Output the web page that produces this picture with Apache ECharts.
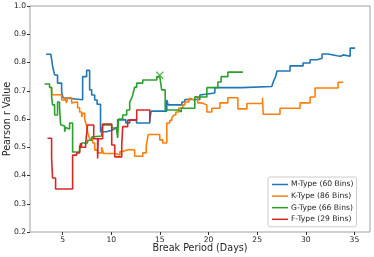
<!DOCTYPE html>
<html><head><meta charset="utf-8">
<script src="https://cdn.jsdelivr.net/npm/echarts@6/dist/echarts.min.js"></script>
<style>html,body{margin:0;padding:0;background:#fff}#c{width:374px;height:257px}</style>
</head><body><div id="c"></div>
<script>
const seriesNames = ['M-Type (60 Bins)', 'K-Type (86 Bins)', 'G-Type (66 Bins)', 'F-Type (29 Bins)'];
const xTicks = [5, 10, 15, 20, 25, 30, 35];
// step data: [break period, pearson r] (value holds until next point)
const mType = [[3.30,0.829],[3.80,0.836],[3.98,0.785],[4.18,0.756],[4.48,0.727],[4.90,0.695],[5.05,0.675],[5.21,0.668],[7.06,0.750],[7.47,0.772],[7.78,0.703],[7.99,0.685],[8.30,0.667],[8.55,0.652],[8.90,0.555],[9.50,0.560],[10.05,0.565],[10.36,0.572],[10.66,0.597],[11.50,0.586],[11.90,0.597],[12.60,0.586],[13.96,0.600],[14.10,0.628],[15.71,0.667],[15.85,0.650],[17.26,0.660],[17.57,0.669],[19.11,0.685],[19.31,0.692],[20.65,0.711],[23.44,0.715],[26.50,0.720],[26.70,0.735],[26.90,0.750],[27.04,0.770],[28.38,0.788],[29.72,0.798],[30.44,0.810],[31.16,0.815],[31.67,0.830],[32.29,0.824],[33.22,0.828],[33.40,0.822],[33.60,0.827],[33.84,0.822],[34.56,0.851],[35.07,0.851]];
const kType = [[3.85,0.713],[3.90,0.686],[4.90,0.667],[5.21,0.675],[5.41,0.657],[5.51,0.675],[5.93,0.657],[6.03,0.660],[6.54,0.640],[6.75,0.625],[6.96,0.607],[7.06,0.620],[7.27,0.600],[7.47,0.575],[7.60,0.550],[7.78,0.530],[8.09,0.515],[8.30,0.490],[8.60,0.480],[9.02,0.500],[9.20,0.478],[10.36,0.473],[10.90,0.485],[11.18,0.492],[11.80,0.490],[12.41,0.468],[13.24,0.480],[13.60,0.505],[13.80,0.545],[14.20,0.550],[14.40,0.545],[14.99,0.526],[15.30,0.515],[15.71,0.586],[16.02,0.595],[16.23,0.604],[16.43,0.614],[16.64,0.625],[16.95,0.639],[17.36,0.650],[17.57,0.660],[17.98,0.672],[18.20,0.678],[18.40,0.665],[18.59,0.678],[18.90,0.657],[19.31,0.650],[19.83,0.625],[20.34,0.638],[21.17,0.657],[21.99,0.675],[23.02,0.636],[23.95,0.655],[25.55,0.675],[25.62,0.617],[27.35,0.638],[29.41,0.657],[30.44,0.678],[30.95,0.710],[33.32,0.730],[33.84,0.730]];
const gType = [[3.15,0.724],[3.66,0.712],[3.87,0.680],[3.97,0.650],[4.18,0.614],[4.48,0.660],[4.69,0.640],[4.80,0.580],[5.00,0.575],[5.21,0.555],[5.31,0.570],[5.51,0.565],[5.72,0.586],[6.03,0.483],[6.75,0.505],[6.96,0.515],[7.57,0.525],[7.99,0.536],[8.09,0.540],[9.02,0.565],[9.12,0.579],[10.05,0.568],[10.56,0.560],[10.66,0.533],[10.75,0.600],[11.18,0.614],[11.59,0.632],[11.90,0.660],[12.10,0.674],[12.21,0.685],[12.41,0.713],[12.62,0.727],[13.24,0.738],[14.68,0.750],[14.99,0.755],[15.19,0.703],[15.55,0.632],[16.90,0.625],[17.20,0.638],[18.59,0.678],[19.83,0.711],[20.96,0.731],[21.30,0.750],[21.99,0.766],[23.54,0.766]];
const fType = [[3.45,0.532],[3.87,0.462],[3.97,0.391],[4.28,0.352],[6.03,0.472],[6.44,0.480],[6.75,0.490],[6.85,0.515],[6.90,0.500],[7.37,0.515],[7.57,0.579],[8.20,0.530],[8.60,0.460],[8.66,0.530],[9.12,0.582],[10.05,0.508],[10.36,0.466],[11.08,0.508],[11.18,0.573],[11.69,0.596],[12.62,0.632],[13.96,0.590]];
const gMarker = [[14.99,0.755]];
const colors = ['#1f77b4', '#ff7f0e', '#2ca02c', '#d62728'];

const chart = echarts.init(document.getElementById('c'), null, {renderer: 'canvas'});
const font = 'DejaVu Sans';
const mk = (name, data, c) => ({
  name, type: 'line', step: 'end', data, showSymbol: false, symbol: 'none',
  lineStyle: {color: c, width: 1.6}, itemStyle: {color: c}, animation: false
});
chart.setOption({
  animation: false,
  color: colors,
  grid: {left: 30, right: 4, top: 6, bottom: 25, show: true, borderColor: '#a0a0a0', borderWidth: 1, containLabel: false, outerBoundsMode: 'none'},
  xAxis: {
    type: 'value', min: 1.65, max: 36.6,
    name: 'Break Period (Days)', nameLocation: 'middle', nameGap: 11, nameMoveOverlap: false,
    nameTextStyle: {fontFamily: font, fontSize: 9.6, color: '#262626'},
    axisLine: {show: false},
    axisTick: {show: true, customValues: xTicks, length: 3, lineStyle: {color: '#333'}},
    axisLabel: {customValues: xTicks, fontFamily: font, fontSize: 7.6, color: '#262626', margin: 4},
    splitLine: {show: false}
  },
  yAxis: {
    type: 'value', min: 0.2, max: 1.0, interval: 0.1,
    name: 'Pearson r Value', nameLocation: 'middle', nameGap: 18, nameMoveOverlap: false,
    nameTextStyle: {fontFamily: font, fontSize: 9.6, color: '#262626'},
    axisLine: {show: false},
    axisTick: {show: true, length: 3, lineStyle: {color: '#333'}},
    axisLabel: {fontFamily: font, fontSize: 7.6, color: '#262626', margin: 4, formatter: v => v.toFixed(1)},
    splitLine: {show: false}
  },
  legend: {
    data: seriesNames, orient: 'vertical', left: 268, top: 177,
    padding: [3, 3, 3, 4], itemGap: 2.6, itemWidth: 16, itemHeight: 1.5, icon: 'rect',
    borderColor: '#cccccc', borderWidth: 1, borderRadius: 2, backgroundColor: '#fff',
    textStyle: {fontFamily: font, fontSize: 7.6, color: '#262626', lineHeight: 9, padding: [0,0,0,-2]}
  },
  series: [
    mk(seriesNames[0], mType, colors[0]),
    mk(seriesNames[1], kType, colors[1]),
    mk(seriesNames[2], gType, colors[2]),
    mk(seriesNames[3], fType, colors[3]),
    {type: 'scatter', data: gMarker, symbol: 'path://M0,0L10,10M10,0L0,10', symbolSize: 7,
     itemStyle: {color: 'none', borderColor: colors[2], borderWidth: 1.2}, silent: true, z: 3}
  ]
});
</script></body></html>
